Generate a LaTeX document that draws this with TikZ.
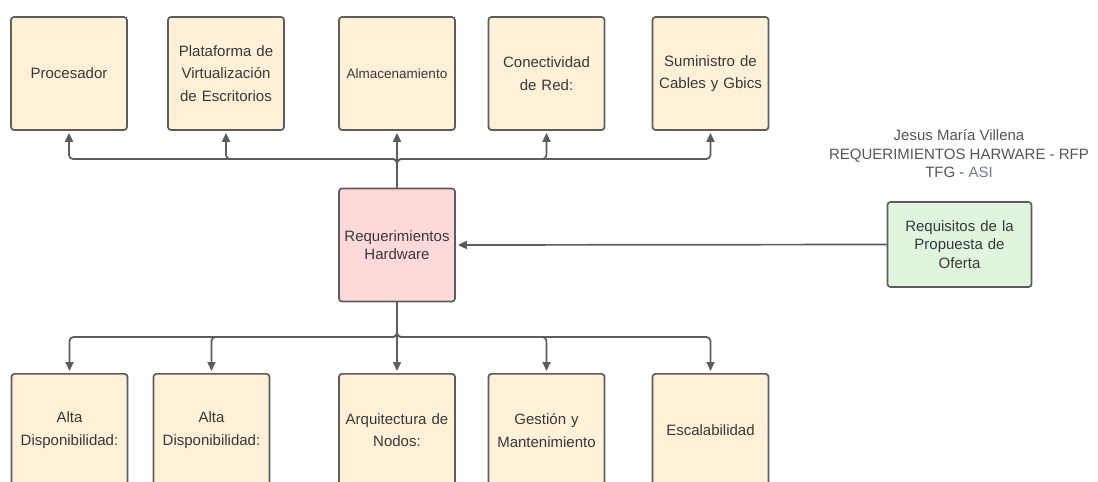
\documentclass[tikz,border=0pt]{standalone}
\usepackage{fontspec}
\setmainfont{Liberation Sans}
\usetikzlibrary{arrows.meta}
\definecolor{cream}{HTML}{FEF1D8}
\definecolor{pinkb}{HTML}{FFD9DA}
\definecolor{greenb}{HTML}{E0F5DD}
\definecolor{edge}{HTML}{5C5C5C}
\definecolor{txt}{HTML}{383838}
\definecolor{ttl}{HTML}{555555}
\definecolor{asic}{HTML}{6E7C90}
\tikzset{
  box/.style={draw=edge, line width=1.7pt, rounded corners=3pt, minimum width=114pt, minimum height=113pt, inner sep=2pt, align=center, text=txt, font=\fontsize{15}{22.5}\selectfont, text width=112pt},
  ybox/.style={box, fill=cream},
  arr/.style={draw=edge, line width=1.7pt, rounded corners=4pt, -{Triangle[length=9pt,width=8pt]}, shorten >=2pt},
}
\begin{document}
\begin{tikzpicture}[x=1pt,y=-1pt]
\useasboundingbox (0,0) rectangle (1098,482);
% top row
\node[ybox] (proc) at (69,73.5) {Procesador};
\node[ybox] (plat) at (226,73.5) {Plataforma de\\Virtualización\\de Escritorios};
\node[ybox, font=\fontsize{13.5}{20}\selectfont] (alm) at (397,73.5) {Almacenamiento};
\node[ybox] (con) at (546.5,73.5) {Conectividad\\de Red:};
\node[ybox] (sum) at (710.5,73.5) {Suministro de\\Cables y Gbics};
% center
\node[box, fill=pinkb, font=\fontsize{15}{18}\selectfont] (hw) at (397,245) {Requerimientos\\Hardware};
% green
\node[box, fill=greenb, minimum width=143pt, text width=140pt, minimum height=85pt, font=\fontsize{15}{18.5}\selectfont] (req) at (959.5,244.5) {Requisitos de la\\Propuesta de\\Oferta};
% bottom row
\node[ybox, anchor=north] (alta1) at (69.5,373) {Alta\\Disponibilidad:\\[22pt]};
\node[ybox, anchor=north] (alta2) at (211.5,373) {Alta\\Disponibilidad:\\[22pt]};
\node[ybox, anchor=north] (arq) at (397,373) {Arquitectura de\\Nodos:\\[22pt]};
\node[ybox, anchor=north] (ges) at (546.5,373) {Gestión y\\Mantenimiento\\[22pt]};
\node[ybox, anchor=north] (esc) at (710.5,373) {Escalabilidad\\[34pt]};
% title
\node[align=center, text=ttl, font=\fontsize{15}{18.5}\selectfont] (title) at (959,154) {Jesus María Villena\\REQUERIMIENTOS HARWARE - RFP\\TFG - {\color{asic}ASI}};
% connectors
\coordinate (tb) at (397,159);
\coordinate (bb) at (397,337);
\draw[arr] (hw.north) -- (tb) -| (proc.south);
\draw[arr] (hw.north) -- (tb) -| (plat.south);
\draw[arr] (hw.north) -- (alm.south);
\draw[arr] (hw.north) -- (tb) -| (con.south);
\draw[arr] (hw.north) -- (tb) -| (sum.south);
\draw[arr] (hw.south) -- (bb) -| (alta1.north);
\draw[arr] (hw.south) -- (bb) -| (alta2.north);
\draw[arr] (hw.south) -- (arq.north);
\draw[arr] (hw.south) -- (bb) -| (ges.north);
\draw[arr] (hw.south) -- (bb) -| (esc.north);
\draw[arr] (req.west) -- (hw.east);
\end{tikzpicture}
\end{document}
